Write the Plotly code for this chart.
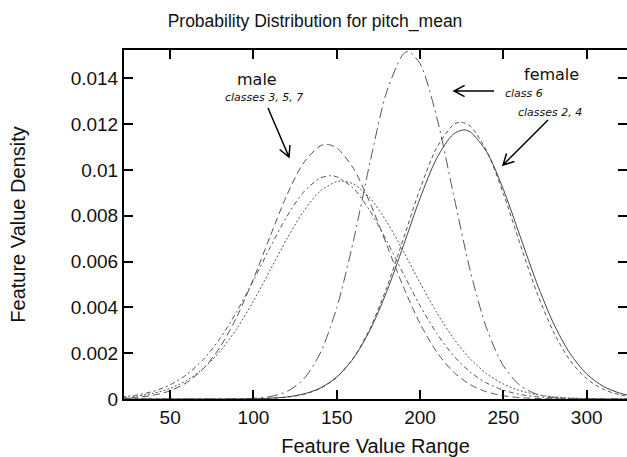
import plotly.graph_objects as go
import math

# ---- data (density values per class) ----
x_class6 = [20, 90, 100, 110, 120, 130, 140, 150, 160, 170, 180, 190, 193, 200, 210, 220, 230, 240, 250, 260, 270, 280, 290, 300, 330]
y_class6 = [0, 0, 0.000029, 0.000104, 0.000322, 0.000861, 0.001992, 0.003985, 0.006906, 0.010349, 0.013425, 0.015072, 0.01517,
            0.014642, 0.012309, 0.008957, 0.005639, 0.003072, 0.001449, 0.000592, 0.000209, 0.000064, 0.000017, 0, 0]

x_female_solid = [20, 80, 90, 100, 110, 120, 130, 140, 150, 160, 170, 180, 190, 200, 210, 220, 226, 230, 240, 250, 260, 270, 280, 290, 300, 310, 320, 330]
y_female_solid = [0, 0.000001, 0.000004, 0.000012, 0.000034, 0.00009, 0.000216, 0.000475, 0.000959, 0.001775, 0.003015, 0.004692, 0.006698,
                  0.008765, 0.010515, 0.011568, 0.01175, 0.011669, 0.010792, 0.009152, 0.007116, 0.005074, 0.003316, 0.001988,
                  0.001093, 0.00055, 0.000254, 0.000108]

x_female_dash = [20, 90, 100, 110, 120, 130, 140, 150, 160, 170, 180, 190, 200, 210, 220, 224.5, 230, 240, 250, 260, 270, 280, 290, 300, 310, 320, 330]
y_female_dash = [0, 0.000003, 0.00001, 0.000029, 0.00008, 0.0002, 0.000456, 0.000945, 0.00179, 0.003091, 0.004869, 0.007, 0.009177,
                 0.010977, 0.011977, 0.012089, 0.011922, 0.010827, 0.008969, 0.006778, 0.004674, 0.002939, 0.001686, 0.000883,
                 0.000421, 0.000184, 0.000073]

x_male_longdash = [20, 30, 40, 50, 60, 70, 80, 90, 100, 110, 120, 130, 140, 144, 150, 160, 170, 180, 190, 200, 210, 220, 230, 240, 250, 260, 270, 280, 290, 330]
y_male_longdash = [0.000029, 0.000072, 0.000167, 0.000361, 0.00072, 0.001329, 0.00227, 0.003587, 0.005247, 0.007101, 0.008893, 0.010306,
                   0.011051, 0.01112, 0.010966, 0.010069, 0.008556, 0.006725, 0.004893, 0.003294, 0.002052, 0.001183, 0.000631,
                   0.000311, 0.000142, 0.00006, 0.000023, 0.000008, 0, 0]

x_male_dashdot = [20, 30, 40, 50, 60, 70, 80, 90, 100, 110, 120, 130, 140, 146, 150, 160, 170, 180, 190, 200, 210, 220, 230, 240, 250, 260, 270, 280, 290, 300, 330]
y_male_dashdot = [0.000085, 0.000175, 0.000339, 0.00062, 0.001069, 0.001735, 0.002652, 0.003819, 0.00518, 0.006618, 0.007966, 0.009031,
                  0.009646, 0.00975, 0.009703, 0.009195, 0.008208, 0.006902, 0.005466, 0.004078, 0.002867, 0.001897, 0.001183,
                  0.000695, 0.000385, 0.0002, 0.000098, 0.000045, 0.00002, 0.000008, 0]

x_male_dot = [20, 30, 40, 50, 60, 70, 80, 90, 100, 110, 120, 130, 140, 150, 153, 160, 170, 180, 190, 200, 210, 220, 230, 240, 250, 260, 270, 280, 290, 300, 310, 330]
y_male_dot = [0.000062, 0.000128, 0.000251, 0.000464, 0.000811, 0.001339, 0.002087, 0.003074, 0.004277, 0.005623, 0.006981, 0.008188,
              0.009073, 0.009496, 0.00952, 0.009388, 0.008768, 0.007735, 0.006446, 0.005075, 0.003774, 0.002651, 0.001759,
              0.001102, 0.000653, 0.000365, 0.000193, 0.000096, 0.000045, 0.00002, 0.000008, 0]

x_ticks = [50, 100, 150, 200, 250, 300]
y_ticks = [0, 0.002, 0.004, 0.006, 0.008, 0.01, 0.012, 0.014]
y_tick_text = ["0", "0.002", "0.004", "0.006", "0.008", "0.01", "0.012", "0.014"]

X_RANGE = [22.3, 324.2]
Y_RANGE = [0, 0.01524]

# ---- geometry helpers (for annotation arrows) ----
W, H = 627, 457
ML, MR, MT, MB = 124, 0, 50, 58
PW, PH = W - ML - MR, H - MT - MB

def px2x(px):
    return X_RANGE[0] + (px - ML) / PW * (X_RANGE[1] - X_RANGE[0])

def py2y(py):
    return Y_RANGE[0] + (MT + PH - py) / PH * (Y_RANGE[1] - Y_RANGE[0])

def arrow_path(tail, head, L=12, ang=28):
    dx, dy = tail[0] - head[0], tail[1] - head[1]
    n = math.hypot(dx, dy)
    ux, uy = dx / n, dy / n
    pts = []
    for s in (1, -1):
        a = math.radians(ang * s)
        rx = ux * math.cos(a) - uy * math.sin(a)
        ry = ux * math.sin(a) + uy * math.cos(a)
        pts.append((head[0] + rx * L, head[1] + ry * L))
    def P(p):
        return f"{px2x(p[0])},{py2y(p[1])}"
    return (f"M {P(tail)} L {P(head)} M {P(pts[0])} L {P(head)} L {P(pts[1])}")

fig = go.Figure()
gray = "#555555"
curves = [
    (x_male_dot, y_male_dot, "2px,2px", gray),
    (x_male_dashdot, y_male_dashdot, "5px,3px,2px,3px", gray),
    (x_male_longdash, y_male_longdash, "7px,4px", gray),
    (x_class6, y_class6, "11px,4px,2px,4px", gray),
    (x_female_dash, y_female_dash, "4px,3px", gray),
    (x_female_solid, y_female_solid, "solid", "#444444"),
]
for xs, ys, dash, col in curves:
    fig.add_trace(go.Scatter(x=xs, y=ys, mode="lines",
                             line=dict(color=col, width=1, dash=dash, shape="spline", smoothing=0.8),
                             showlegend=False, hoverinfo="skip"))
fig.add_trace(go.Scatter(x=[None], y=[None], yaxis="y2", showlegend=False))

fontf = "Liberation Sans, Arial, sans-serif"
fig.update_layout(
    width=W, height=H,
    margin=dict(l=ML, r=MR, t=MT, b=MB, autoexpand=False),
    paper_bgcolor="white", plot_bgcolor="white",
    title=dict(text="Probability Distribution for pitch_mean", x=315 / W, xanchor="center",
               y=1 - 21 / H, yanchor="middle", yref="container",
               font=dict(family=fontf, size=17.5, color="#111")),
    xaxis=dict(range=X_RANGE, tickvals=x_ticks, ticks="inside", ticklen=9, tickwidth=2, tickcolor="black",
               showline=True, linewidth=2, linecolor="black", mirror="ticks", showgrid=False, zeroline=False,
               automargin=False,
               tickfont=dict(family=fontf, size=19, color="#111"),
               title=dict(text="Feature Value Range", font=dict(family=fontf, size=20, color="#111"), standoff=19)),
    yaxis=dict(range=Y_RANGE, tickvals=y_ticks, ticktext=y_tick_text, ticks="inside", ticklen=9, tickwidth=2,
               tickcolor="black", showline=True, linewidth=2, linecolor="black", showgrid=False, zeroline=False,
               automargin=False,
               tickfont=dict(family=fontf, size=19, color="#111"),
               title=dict(text="Feature Value Density", font=dict(family=fontf, size=20, color="#111"), standoff=40)),
    yaxis2=dict(range=Y_RANGE, overlaying="y", side="right", tickvals=y_ticks, showticklabels=False,
                ticks="inside", ticklen=9, tickwidth=2, tickcolor="black", showline=False,
                showgrid=False, zeroline=False, automargin=False),
)

ann_font = "DejaVu Sans, Verdana, sans-serif"
fig.add_annotation(x=px2x(257), y=py2y(79), text="male", showarrow=False,
                   font=dict(family=ann_font, size=16, color="#111"))
fig.add_annotation(x=px2x(263.5), y=py2y(97), text="<i>classes 3, 5, 7</i>", showarrow=False,
                   font=dict(family=ann_font, size=11, color="#111"))
fig.add_annotation(x=px2x(551.5), y=py2y(74), text="female", showarrow=False,
                   font=dict(family=ann_font, size=16, color="#111"))
fig.add_annotation(x=px2x(503), y=py2y(93), text="<i>class 6</i>", showarrow=False, xanchor="left",
                   font=dict(family=ann_font, size=11, color="#111"))
fig.add_annotation(x=px2x(549.5), y=py2y(112), text="<i>classes 2, 4</i>", showarrow=False,
                   font=dict(family=ann_font, size=11, color="#111"))

for tail, head in [((268, 108), (289, 157)), ((494, 91), (454, 91)), ((548, 120), (503, 165))]:
    fig.add_shape(type="path", path=arrow_path(tail, head), xref="x", yref="y",
                  line=dict(color="black", width=1.5))

fig.write_html("out.html")
